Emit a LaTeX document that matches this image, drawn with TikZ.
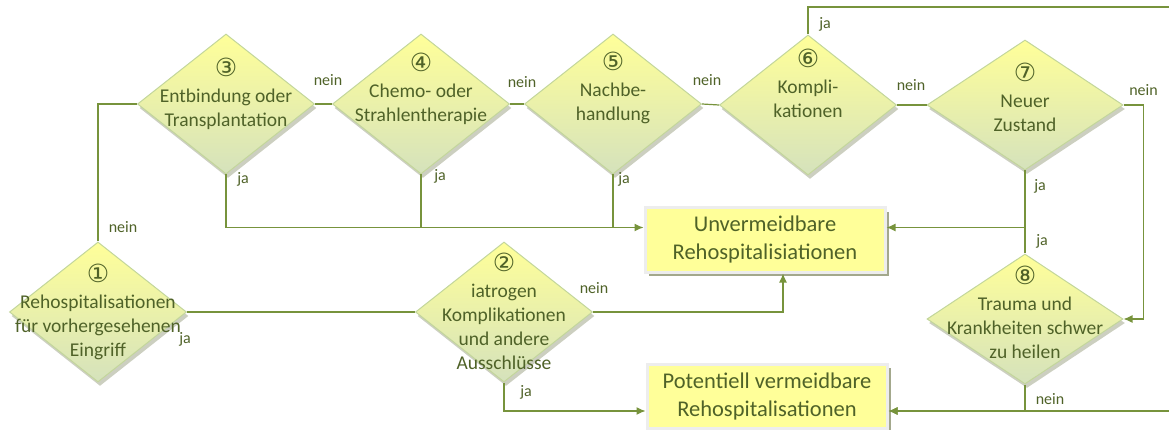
\documentclass[tikz,border=0pt]{standalone}
\usepackage{fontspec}
\setmainfont{Carlito}
\newfontfamily\numfont{DejaVu Sans}
\usetikzlibrary{arrows.meta,shapes.geometric,shadows}
\definecolor{lineGreen}{HTML}{77933C}
\definecolor{textGreen}{HTML}{4F6228}
\definecolor{diaTop}{HTML}{FFFF99}
\definecolor{diaBottom}{HTML}{D5E2BC}
\definecolor{diaBorder}{HTML}{C3D69B}
\definecolor{boxFill}{HTML}{FFFF99}
\definecolor{shadowGray}{HTML}{A3A88C}
\newcommand{\stepnum}[1]{{\numfont\fontsize{25}{25}\selectfont #1}}
\tikzset{%
  >={Latex[width=8pt,length=9pt]},
  % Specifications for style of nodes:
      decision/.style = {diamond, draw=diaBorder, line width=1pt, inner sep=0pt,
                         top color=diaTop, bottom color=diaBottom,
                         minimum width=177pt, minimum height=140pt,
                         drop shadow={shadow xshift=2pt, shadow yshift=-4pt,
                                      fill=shadowGray, opacity=.55}},
  widedecision/.style = {decision, minimum width=196pt, minimum height=130pt},
      dectext/.style = {align=center, inner sep=0pt, text=textGreen,
                         font=\fontsize{19.5}{24}\selectfont},
       outcome/.style = {rectangle, draw=black!7, line width=3pt, fill=boxFill,
                         minimum width=240pt, minimum height=64pt,
                         align=center, text=textGreen,
                         font=\fontsize{22.5}{28}\selectfont,
                         drop shadow={shadow xshift=4pt, shadow yshift=-4pt,
                                      fill=shadowGray, opacity=1}},
        answer/.style = {inner sep=0pt, text=textGreen,
                         font=\fontsize{16}{18}\selectfont},
          flow/.style = {draw=lineGreen, line width=1.2pt},
}
\begin{document}
\begin{tikzpicture}[x=1pt, y=-1pt]
  \useasboundingbox (0,0) rectangle (1169,430);
  % Decisions (position, etc.)
  \node (d1) [decision]     at (98,312)   {};
  \node (d2) [decision]     at (504,312)  {};
  \node (d3) [decision]     at (226,104)  {};
  \node (d4) [decision]     at (421,104)  {};
  \node (d5) [decision]     at (613,104)  {};
  \node (d6) [decision]     at (808,105)  {};
  \node (d7) [widedecision] at (1025,105) {};
  \node (d8) [widedecision] at (1025,319) {};
  % texts of the decisions
  \node (t1) [dectext] at ([yshift=0pt]d1.center)
        {\stepnum{①}\\[2pt]Rehospitalisationen\\für vorhergesehenen\\Eingriff};
  \node (t2) [dectext] at ([yshift=1pt]d2.center)
        {\stepnum{②}\\[2pt]iatrogen\\Komplikationen\\und andere\\Ausschlüsse};
  \node (t3) [dectext] at ([yshift=10pt]d3.center)
        {\stepnum{③}\\[2pt]Entbindung oder\\Transplantation};
  \node (t4) [dectext] at ([yshift=15pt]d4.center)
        {\stepnum{④}\\[2pt]Chemo- oder\\Strahlentherapie};
  \node (t5) [dectext] at ([yshift=16pt]d5.center)
        {\stepnum{⑤}\\[2pt]Nachbe-\\handlung};
  \node (t6) [dectext] at ([yshift=22pt]d6.center)
        {\stepnum{⑥}\\[2pt]Kompli-\\kationen};
  \node (t7) [dectext] at ([yshift=8pt]d7.center)
        {\stepnum{⑦}\\[2pt]Neuer\\Zustand};
  \node (t8) [dectext] at ([yshift=7pt]d8.center)
        {\stepnum{⑧}\\[2pt]Trauma und\\Krankheiten schwer\\zu heilen};
  % Outcomes
  \node (unv) [outcome] at (765,240) {Unvermeidbare\\Rehospitalisiationen};
  \node (pot) [outcome] at (767,396) {Potentiell vermeidbare\\Rehospitalisationen};
  \coordinate (unvL) at ([yshift=12.5pt]unv.west);
  \coordinate (unvR) at ([yshift=12.5pt]unv.east);
  \coordinate (potL) at ([yshift=-15pt]pot.west);
  \coordinate (potR) at ([yshift=-15pt]pot.east);
  \coordinate (far)  at (1185,7);
  % Connectors between the nodes
  \draw[flow]      (d1.north) |- (d3.west);
  \draw[flow]      (d1.east) -- (d2.west);
  \draw[flow]      (d3.east) -- (d4.west);
  \draw[flow]      (d4.east) -- (d5.west);
  \draw[flow]      (d5.east) -- (d6.west);
  \draw[flow]      (d6.east) -- (d7.west);
  \draw[flow, ->]  (d3.south) |- (unvL);
  \draw[flow]      (d4.south) -- (d4.south |- unvL);
  \draw[flow]      (d5.south) -- (d5.south |- unvL);
  \draw[flow, ->]  (d7.south) |- (unvR);
  \draw[flow]      (d8.north) -- (d8.north |- unvR);
  \draw[flow, ->]  (d7.east) -- ++(20,0) |- (d8.east);
  \draw[flow, ->]  (d2.east) -| ([xshift=18pt]unv.south);
  \draw[flow, ->]  (d2.south) |- (potL);
  \draw[flow, ->]  (d8.south) |- (potR);
  \draw[flow, ->]  (d6.north) |- (far) |- (potR);
  % answers on the connectors
  \node (a1n) [answer] at ([shift={(25,-14)}]d1.north) {nein};
  \node (a1j) [answer] at ([shift={(-2,27)}]d1.east)   {ja};
  \node (a2n) [answer] at ([shift={(1,-24)}]d2.east)   {nein};
  \node (a2j) [answer] at ([shift={(22,10)}]d2.south)  {ja};
  \node (a3n) [answer] at ([shift={(13,-24)}]d3.east)  {nein};
  \node (a3j) [answer] at ([shift={(17,5)}]d3.south)   {ja};
  \node (a4n) [answer] at ([shift={(12,-22)}]d4.east)  {nein};
  \node (a4j) [answer] at ([shift={(19,2)}]d4.south)   {ja};
  \node (a5n) [answer] at ([shift={(5,-24)}]d5.east)   {nein};
  \node (a5j) [answer] at ([shift={(11,5)}]d5.south)   {ja};
  \node (a6n) [answer] at ([shift={(14,-20)}]d6.east)  {nein};
  \node (a6j) [answer] at ([shift={(17,-10)}]d6.north) {ja};
  \node (a7n) [answer] at ([shift={(20,-15)}]d7.east)  {nein};
  \node (a7j) [answer] at ([shift={(15,16)}]d7.south)  {ja};
  \node (a8j) [answer] at ([shift={(17,-12)}]d8.north) {ja};
  \node (a8n) [answer] at ([shift={(25,15)}]d8.south)  {nein};
\end{tikzpicture}
\end{document}
